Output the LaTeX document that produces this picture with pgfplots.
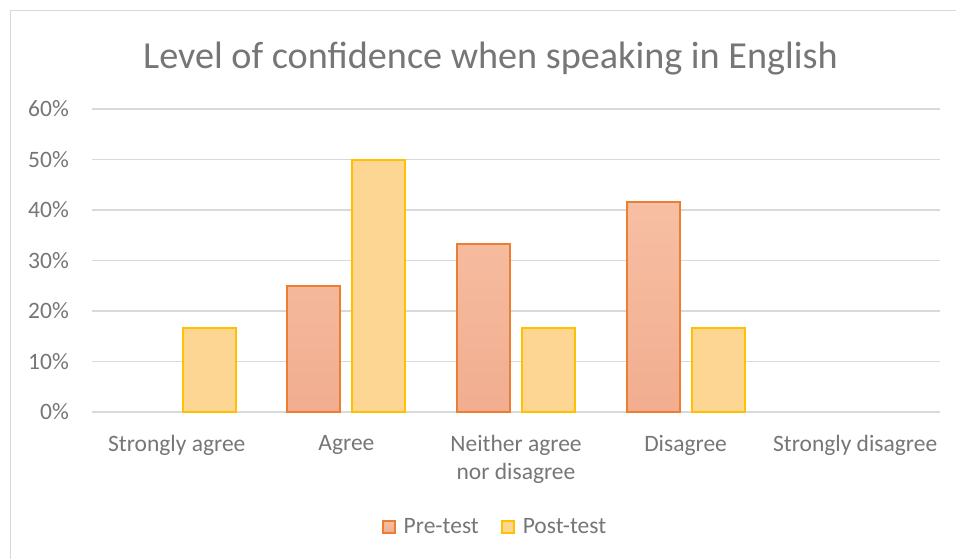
\documentclass[border=0pt]{standalone}
\usepackage{pgfplots}
\pgfplotsset{compat=1.18}
\usepackage{fontspec}
\setmainfont{Carlito}
\definecolor{txt}{RGB}{118,118,118}
\definecolor{gridc}{RGB}{217,217,217}
\definecolor{preEdge}{RGB}{237,125,49}
\definecolor{preTop}{RGB}{247,191,163}
\definecolor{preBot}{RGB}{241,173,143}
\definecolor{preMid}{RGB}{244,182,153}
\definecolor{postEdge}{RGB}{255,192,0}
\definecolor{postFill}{RGB}{254,214,148}
\begin{document}
\begin{tikzpicture}
\useasboundingbox (0pt,0pt) rectangle (956pt,-558pt);
\draw[gridc, line width=1.5pt] (10.5pt,-560pt) -- (10.5pt,-10.5pt) -- (960pt,-10.5pt);
\node[text=txt, font=\fontsize{38.2}{45}\selectfont] at (490.5pt,-59pt) {Level of confidence when speaking in English};
\begin{axis}[
 at={(92pt,-412pt)}, anchor=south west,
 scale only axis, width=848pt, height=303pt,
 xmin=-0.5, xmax=4.5, ymin=0, ymax=60,
 axis line style={draw=none},
 ymajorgrids, grid style={gridc, line width=1.3pt},
 major tick length=0pt,
 xtick={0,...,4},
 xticklabels={Strongly agree, Agree, {Neither agree\\nor disagree}, Disagree, Strongly disagree},
 ytick={0,10,...,60},
 yticklabels={0\%,10\%,20\%,30\%,40\%,50\%,60\%},
 tick label style={font=\fontsize{23.5}{28}\selectfont, text=txt},
 xticklabel style={align=center, anchor=north, inner sep=0pt, yshift=-23pt},
 yticklabel style={anchor=east, inner sep=0pt, xshift=-23pt},
 ybar=12pt, bar width=53pt,
 legend columns=2,
 legend style={at={(0.4752,-0.3795)}, anchor=center, draw=none, fill=none,
   font=\fontsize{23.5}{28}\selectfont, text=txt,
   /tikz/every odd column/.append style={column sep=6pt},
   /tikz/every even column/.append style={column sep=20pt}},
 clip=false,
]
\addplot[draw=preEdge, line width=2pt, top color=preTop, bottom color=preBot,
 legend image code/.code={\draw[draw=preEdge, fill=preMid, line width=2pt] (0pt,-6pt) rectangle (12pt,6pt);}]
 coordinates {(1,25) (2,33.33) (3,41.67)};
\addlegendentry{Pre-test}
\addplot[draw=postEdge, line width=2pt, fill=postFill,
 legend image code/.code={\draw[draw=postEdge, fill=postFill, line width=2pt] (0pt,-6pt) rectangle (12pt,6pt);}]
 coordinates {(0,16.67) (1,50) (2,16.67) (3,16.67)};
\addlegendentry{Post-test}
\end{axis}
\end{tikzpicture}
\end{document}
